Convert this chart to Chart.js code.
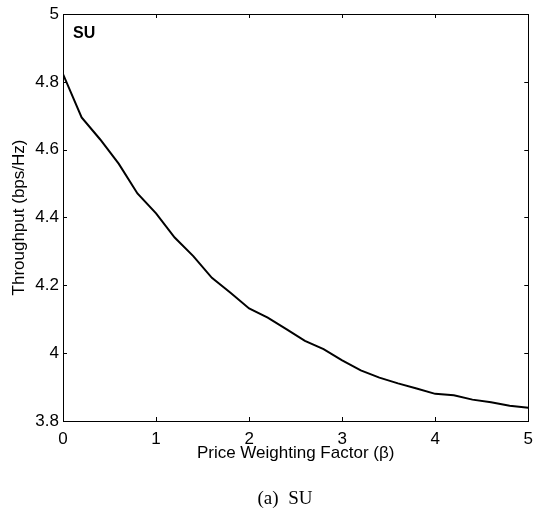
<!DOCTYPE html>
<html>
<head>
<meta charset="utf-8">
<script src="https://cdn.jsdelivr.net/npm/chart.js@4.4.0/dist/chart.umd.min.js"></script>
<style>
  html, body { margin: 0; padding: 0; background: #fff; }
  #wrap { position: relative; width: 533px; height: 508px; }
  #caption {
    position: absolute; left: 0; width: 570px; top: 487px;
    text-align: center; font-family: "Liberation Serif", serif; font-size: 19px; color: #000;
    white-space: pre;
  }
</style>
</head>
<body>
<div id="wrap">
  <canvas id="myChart" width="533" height="508"></canvas>
  <div id="caption">(a)  SU</div>
</div>
<script>
// price weighting factor (beta) and resulting throughput
var betaValues = [0, 0.2, 0.4, 0.6, 0.8, 1.0, 1.2, 1.4, 1.6, 1.8, 2.0, 2.2, 2.4, 2.6,
                  2.8, 3.0, 3.2, 3.4, 3.6, 3.8, 4.0, 4.2, 4.4, 4.6, 4.8, 5.0];
var throughputSU = [4.823, 4.695, 4.630, 4.558, 4.471, 4.412, 4.341, 4.286, 4.222, 4.178,
                    4.132, 4.105, 4.071, 4.036, 4.012, 3.979, 3.949, 3.928, 3.911, 3.896,
                    3.880, 3.876, 3.863, 3.855, 3.845, 3.839];
var xTicks = [0, 1, 2, 3, 4, 5];
var yTicks = [3.8, 4, 4.2, 4.4, 4.6, 4.8, 5];

var FONT = '"Liberation Sans", Arial, sans-serif';

// matlab style box with inward ticks plus the panel label
var boxPlugin = {
  id: 'box',
  afterDraw: function (chart) {
    var ctx = chart.ctx;
    var a = chart.chartArea;
    var xs = chart.scales.x, ys = chart.scales.y;
    var tl = 4;
    ctx.save();
    ctx.strokeStyle = '#000';
    ctx.lineWidth = 1;
    ctx.strokeRect(Math.round(a.left) + 0.5, Math.round(a.top) + 0.5,
                   Math.round(a.right - a.left), Math.round(a.bottom - a.top));
    ctx.beginPath();
    xTicks.forEach(function (v) {
      var px = Math.round(xs.getPixelForValue(v)) + 0.5;
      ctx.moveTo(px, a.bottom); ctx.lineTo(px, a.bottom - tl);
      ctx.moveTo(px, a.top); ctx.lineTo(px, a.top + tl);
    });
    yTicks.forEach(function (v) {
      var py = Math.round(ys.getPixelForValue(v)) + 0.5;
      ctx.moveTo(a.left, py); ctx.lineTo(a.left + tl, py);
      ctx.moveTo(a.right, py); ctx.lineTo(a.right - tl, py);
    });
    ctx.stroke();
    ctx.fillStyle = '#000';
    ctx.font = 'bold 16px ' + FONT;
    ctx.textBaseline = 'alphabetic';
    ctx.fillText('SU', a.left + 10, a.top + 24);
    ctx.restore();
  }
};

var ctx = document.getElementById('myChart').getContext('2d');
var myChart = new Chart(ctx, {
  type: 'line',
  data: {
    datasets: [{
      label: 'SU',
      data: betaValues.map(function (b, i) { return { x: b, y: throughputSU[i] }; }),
      borderColor: '#000',
      borderWidth: 2,
      pointRadius: 0,
      tension: 0,
      fill: false
    }]
  },
  options: {
    responsive: false,
    animation: false,
    layout: { padding: { left: 0, top: 14, right: 0, bottom: 46 } },
    plugins: { legend: { display: false }, tooltip: { enabled: false } },
    scales: {
      x: {
        type: 'linear', min: 0, max: 5,
        afterBuildTicks: function (s) { s.ticks = xTicks.map(function (v) { return { value: v }; }); },
        afterFit: function (s) { s.height = 41; },
        // invisible tick marks only to push the labels down
        grid: { display: true, drawOnChartArea: false, drawTicks: true, tickLength: 10, color: 'rgba(0,0,0,0)' },
        border: { display: false },
        ticks: { color: '#000', font: { family: FONT, size: 17, lineHeight: 1 }, padding: 0, maxRotation: 0 },
        title: { display: true, text: 'Price Weighting Factor (β)', color: '#000',
                 font: { family: FONT, size: 17, lineHeight: 1 }, padding: { top: 0, bottom: 0 } }
      },
      y: {
        min: 3.8, max: 5,
        afterBuildTicks: function (s) { s.ticks = yTicks.map(function (v) { return { value: v }; }); },
        afterFit: function (s) { s.width = 63; },
        grid: { display: false, drawTicks: false },
        border: { display: false },
        ticks: { color: '#000', font: { family: FONT, size: 17, lineHeight: 1 }, padding: 4,
                 callback: function (v) { return String(Math.round(v * 10) / 10); } },
        title: { display: true, text: 'Throughput (bps/Hz)', color: '#000',
                 font: { family: FONT, size: 17, lineHeight: 1 }, padding: { top: 11, bottom: 0 } }
      }
    }
  },
  plugins: [boxPlugin]
});
</script>
</body>
</html>
